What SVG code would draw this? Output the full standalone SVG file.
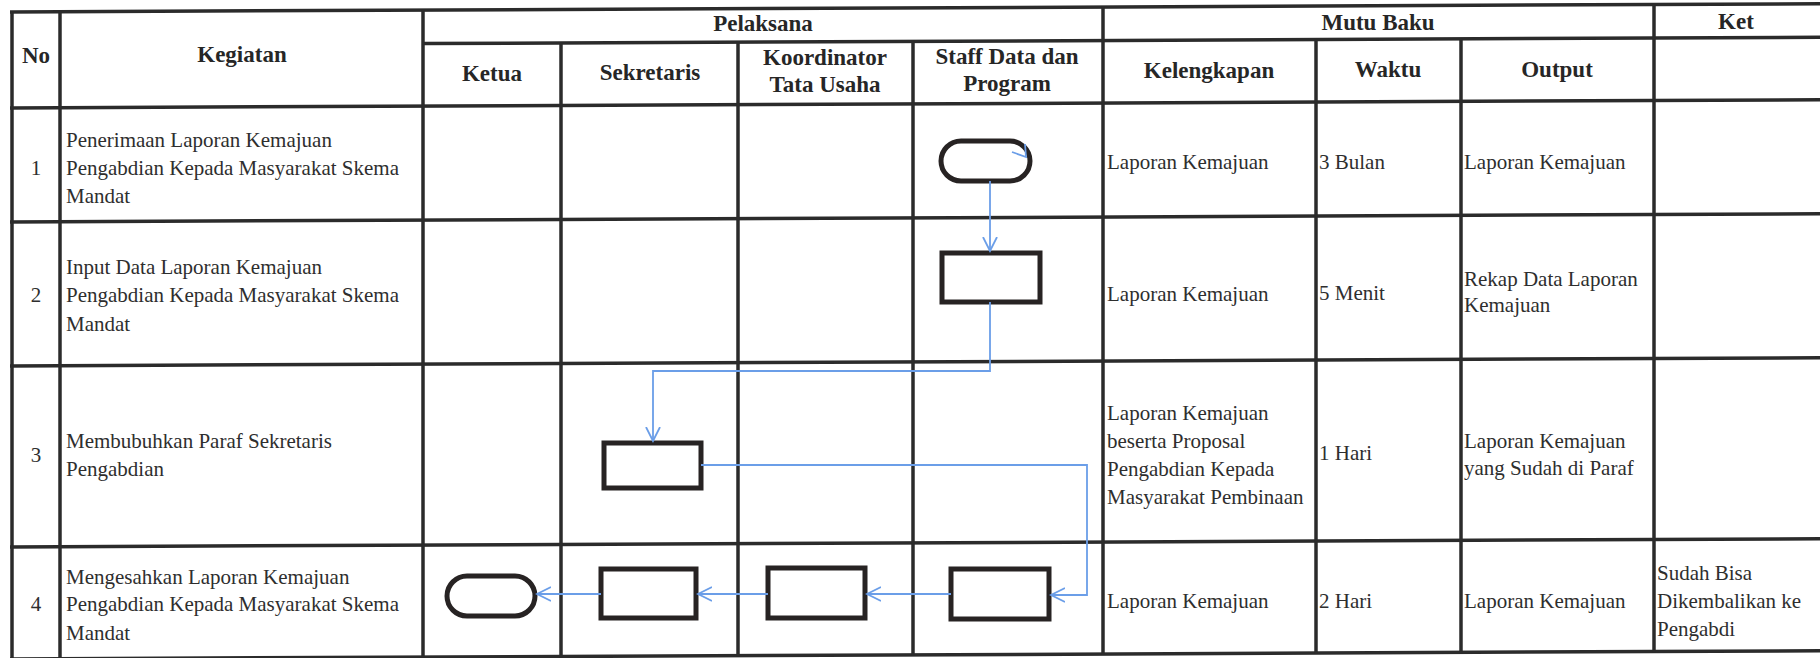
<svg xmlns="http://www.w3.org/2000/svg" width="1820" height="658" viewBox="0 0 1820 658">
<defs>
<style>
.grid line{stroke:#2b2b2b;stroke-width:3.5}
.hd{font-family:"Liberation Serif",serif;font-weight:bold;font-size:23px;fill:#262626;text-anchor:middle}
.tx{font-family:"Liberation Serif",serif;font-size:21px;fill:#2e2e2e}
.num{font-family:"Liberation Serif",serif;font-size:21px;fill:#2e2e2e;text-anchor:middle}
.shape{fill:#ffffff;stroke:#272323;stroke-width:5}
.conn{fill:none;stroke:#6b9ee8;stroke-width:1.8}
</style>
<marker id="arr" markerWidth="16" markerHeight="16" refX="14" refY="8" orient="auto" markerUnits="userSpaceOnUse">
<path d="M0,1 L14,8 L0,15" fill="none" stroke="#6b9ee8" stroke-width="1.8"/>
</marker>
</defs>
<rect width="1820" height="658" fill="#ffffff"/>
<g id="table" class="grid" transform="skewY(-0.26)">
<line x1="10" y1="12" x2="1820" y2="12"/>
<line x1="424" y1="45.5" x2="1820" y2="45.5"/>
<line x1="10" y1="108" x2="1820" y2="108"/>
<line x1="10" y1="222" x2="1820" y2="222"/>
<line x1="10" y1="366" x2="1820" y2="366"/>
<line x1="10" y1="547" x2="1820" y2="547"/>
<line x1="10" y1="659" x2="1820" y2="659"/>
<line x1="12" y1="12" x2="12" y2="660"/>
<line x1="60" y1="12" x2="60" y2="660"/>
<line x1="423" y1="12" x2="423" y2="660"/>
<line x1="561" y1="45.5" x2="561" y2="660"/>
<line x1="738" y1="45.5" x2="738" y2="660"/>
<line x1="913" y1="45.5" x2="913" y2="660"/>
<line x1="1103" y1="12" x2="1103" y2="660"/>
<line x1="1316" y1="45.5" x2="1316" y2="660"/>
<line x1="1461" y1="45.5" x2="1461" y2="660"/>
<line x1="1654" y1="12" x2="1654" y2="660"/>
</g>
<g id="headers">
<text class="hd" x="36" y="63">No</text>
<text class="hd" x="242" y="62">Kegiatan</text>
<text class="hd" x="763" y="31">Pelaksana</text>
<text class="hd" x="1378" y="30">Mutu Baku</text>
<text class="hd" x="1736" y="29">Ket</text>
<text class="hd" x="492" y="81">Ketua</text>
<text class="hd" x="650" y="80">Sekretaris</text>
<text class="hd" x="825" y="65">Koordinator</text>
<text class="hd" x="825" y="92">Tata Usaha</text>
<text class="hd" x="1007" y="64">Staff Data dan</text>
<text class="hd" x="1007" y="91">Program</text>
<text class="hd" x="1209" y="78">Kelengkapan</text>
<text class="hd" x="1388" y="77">Waktu</text>
<text class="hd" x="1557" y="77">Output</text>
</g>
<g id="row1">
<text class="num" x="36" y="175">1</text>
<text class="tx" x="66" y="147">Penerimaan Laporan Kemajuan</text>
<text class="tx" x="66" y="175">Pengabdian Kepada Masyarakat Skema</text>
<text class="tx" x="66" y="203">Mandat</text>
<text class="tx" x="1107" y="169">Laporan Kemajuan</text>
<text class="tx" x="1319" y="169">3 Bulan</text>
<text class="tx" x="1464" y="169">Laporan Kemajuan</text>
</g>
<g id="row2">
<text class="num" x="36" y="302">2</text>
<text class="tx" x="66" y="274">Input Data Laporan Kemajuan</text>
<text class="tx" x="66" y="302">Pengabdian Kepada Masyarakat Skema</text>
<text class="tx" x="66" y="331">Mandat</text>
<text class="tx" x="1107" y="301">Laporan Kemajuan</text>
<text class="tx" x="1319" y="300">5 Menit</text>
<text class="tx" x="1464" y="286">Rekap Data Laporan</text>
<text class="tx" x="1464" y="312">Kemajuan</text>
</g>
<g id="row3">
<text class="num" x="36" y="462">3</text>
<text class="tx" x="66" y="448">Membubuhkan Paraf Sekretaris</text>
<text class="tx" x="66" y="476">Pengabdian</text>
<text class="tx" x="1107" y="420">Laporan Kemajuan</text>
<text class="tx" x="1107" y="448">beserta Proposal</text>
<text class="tx" x="1107" y="476">Pengabdian Kepada</text>
<text class="tx" x="1107" y="504">Masyarakat Pembinaan</text>
<text class="tx" x="1319" y="460">1 Hari</text>
<text class="tx" x="1464" y="448">Laporan Kemajuan</text>
<text class="tx" x="1464" y="475">yang Sudah di Paraf</text>
</g>
<g id="row4">
<text class="num" x="36" y="611">4</text>
<text class="tx" x="66" y="584">Mengesahkan Laporan Kemajuan</text>
<text class="tx" x="66" y="611">Pengabdian Kepada Masyarakat Skema</text>
<text class="tx" x="66" y="640">Mandat</text>
<text class="tx" x="1107" y="608">Laporan Kemajuan</text>
<text class="tx" x="1319" y="608">2 Hari</text>
<text class="tx" x="1464" y="608">Laporan Kemajuan</text>
<text class="tx" x="1657" y="580">Sudah Bisa</text>
<text class="tx" x="1657" y="608">Dikembalikan ke</text>
<text class="tx" x="1657" y="636">Pengabdi</text>
</g>
<g id="n1-start"><rect class="shape" x="941" y="141" width="89" height="40" rx="20"/></g>
<g id="n2-input"><rect class="shape" x="942" y="253" width="98" height="49"/></g>
<g id="n3-paraf"><rect class="shape" x="604" y="443" width="97" height="45"/></g>
<g id="n4-staff"><rect class="shape" x="951" y="569" width="98" height="50"/></g>
<g id="n5-koord"><rect class="shape" x="768" y="568" width="97" height="50"/></g>
<g id="n6-sek"><rect class="shape" x="601" y="569" width="95" height="49"/></g>
<g id="n7-end"><rect class="shape" x="447" y="576" width="88" height="40" rx="20"/></g>
<g id="connectors">
<path class="conn" d="M1012,152 L1026,157 L1025,144"/>
<path class="conn" d="M990,181 L990,251" marker-end="url(#arr)"/>
<path class="conn" d="M990,302 L990,371 L653,371 L653,441" marker-end="url(#arr)"/>
<path class="conn" d="M701,465 L1087,465 L1087,595 L1051,595" marker-end="url(#arr)"/>
<path class="conn" d="M951,594 L867,594" marker-end="url(#arr)"/>
<path class="conn" d="M768,594 L698,594" marker-end="url(#arr)"/>
<path class="conn" d="M601,594 L537,594" marker-end="url(#arr)"/>
</g>
</svg>
